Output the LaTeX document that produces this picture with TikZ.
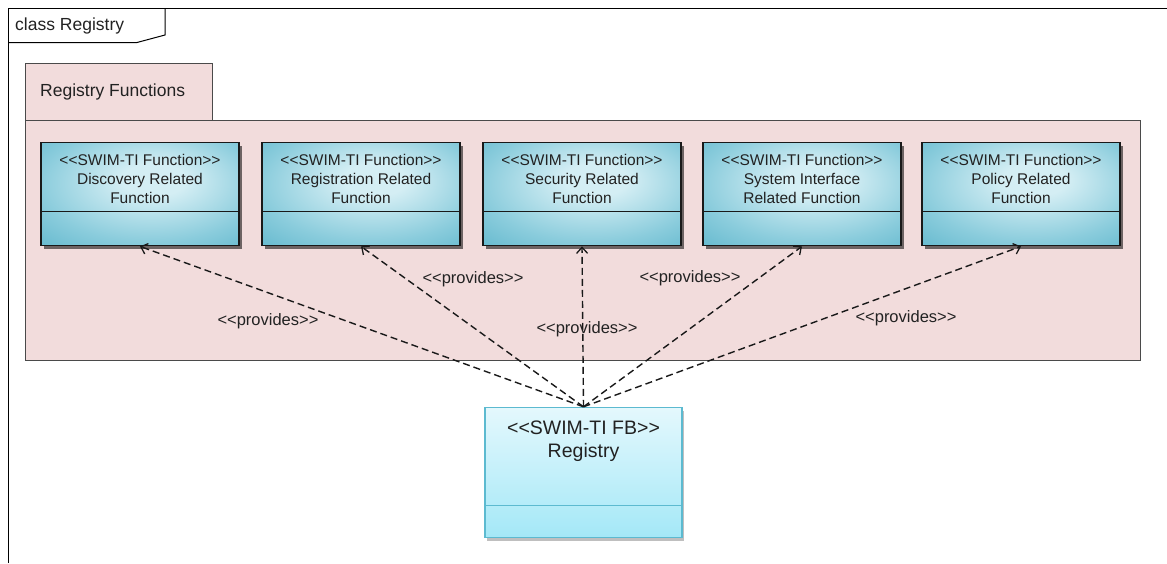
\documentclass[tikz,border=0pt]{standalone}
\usepackage{fontspec}
\setmainfont{Liberation Sans}
\usetikzlibrary{arrows.meta,shadows}

\definecolor{inkgray}{HTML}{222222}
\definecolor{pkgfill}{HTML}{F2DCDC}
\definecolor{pkgline}{HTML}{4A4A4A}
\definecolor{fnlight}{HTML}{D4EEF4}
\definecolor{fnmid}{HTML}{8ACCDC}
\definecolor{fndark}{HTML}{47AAC3}
\definecolor{regtop}{HTML}{E4F8FD}
\definecolor{regbot}{HTML}{A4E8F7}
\definecolor{regline}{HTML}{5CBAD0}

% light spot near the top of each function box, teal towards the rim
\pgfdeclareradialshading{fnshade}{\pgfpoint{4bp}{8bp}}{%
  color(0bp)=(fnlight); color(8bp)=(fnlight); color(28bp)=(fnmid); color(50bp)=(fndark); color(70bp)=(fndark)}

\tikzset{
  frameline/.style={draw=black, line width=1pt},
  pkgbox/.style={draw=pkgline, fill=pkgfill, line width=1pt, rectangle, inner sep=0pt},
  fnbox/.style={rectangle, draw=black!90, line width=1.4pt, shading=fnshade,
    minimum width=198pt, minimum height=103pt, inner sep=0pt,
    drop shadow={shadow xshift=3pt, shadow yshift=-3pt, fill=black, opacity=.55}},
  fnsep/.style={draw=black!90, line width=1.2pt},
  fntext/.style={align=center, text=inkgray, inner sep=0pt,
    font=\fontsize{15.5}{19}\selectfont},
  regbox/.style={rectangle, draw=regline, line width=1.4pt, top color=regtop, bottom color=regbot,
    minimum width=197pt, minimum height=130pt, inner sep=0pt,
    drop shadow={shadow xshift=2pt, shadow yshift=-3pt, fill=black, opacity=.25}},
  regtext/.style={align=center, text=inkgray, inner sep=0pt,
    font=\fontsize{19.5}{23}\selectfont},
  dep/.style={draw=black!90, line width=1.4pt, dash pattern=on 7pt off 4pt,
    -{Straight Barb[length=6pt, width=11pt, line width=1.3pt]}},
  deplabel/.style={text=inkgray, inner sep=0pt, font=\fontsize{16.5}{19}\selectfont},
  titletext/.style={text=inkgray, inner sep=0pt, font=\fontsize{17.5}{21}\selectfont},
}

\begin{document}
\begin{tikzpicture}[x=1pt, y=-1pt]
\useasboundingbox (0,0) rectangle (1167,563);

% diagram frame with its name tab
\draw[frameline] (8,563) -- (8,8) -- (1167,8);
\draw[frameline] (8,42.5) -- (137,42.5) -- (165,35) -- (165,8);
\node[titletext, anchor=west] (frametitle) at (15,25.5) {class Registry};

% package with its tab
\node[pkgbox, minimum width=1115pt, minimum height=240pt] (pkg) at (582.5,240) {};
\node[pkgbox, minimum width=187pt, minimum height=57pt] (pkgtab) at (118.5,91.5) {};
\node[titletext, anchor=west] (pkgtitle) at (40,91.5) {Registry Functions};

% function classes
\foreach \n/\cx/\txt in {
  f1/140/{Discovery Related\\Function},
  f2/361/{Registration Related\\Function},
  f3/582/{Security Related\\Function},
  f4/802/{System Interface\\Related Function},
  f5/1021/{Policy Related\\Function}}{
  \node[fnbox] (\n) at (\cx,194.2) {};
  \draw[fnsep] (\n.west |- 0,211.7) -- (\n.east |- 0,211.7);
  \node[fntext] (\n t) at (\cx,178.5) {<{}<SWIM-TI Function>{}>\\\txt};
}

% the functional block
\node[regbox] (reg) at (583.5,472.5) {};
\draw[draw=regline, line width=1.2pt] (reg.west |- 0,505.7) -- (reg.east |- 0,505.7);
\node[regtext] (regt) at (583.5,441) {<{}<SWIM-TI FB>{}>\\Registry};

% dependencies
\foreach \n in {f1,f2,f3,f4,f5}
  \draw[dep] (reg.north) -- (\n.south);

\node[deplabel] (p1) at (268,321) {<{}<provides>{}>};
\node[deplabel] (p2) at (473,279) {<{}<provides>{}>};
\node[deplabel] (p3) at (587,329) {<{}<provides>{}>};
\node[deplabel] (p4) at (690,278) {<{}<provides>{}>};
\node[deplabel] (p5) at (906,318) {<{}<provides>{}>};
\end{tikzpicture}
\end{document}
